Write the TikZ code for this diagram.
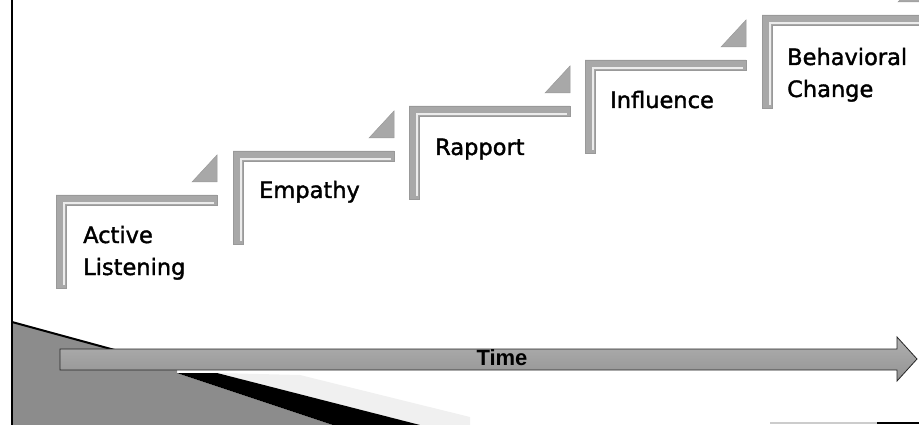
\documentclass[tikz,border=0pt]{standalone}
\usepackage{fontspec}
\setmainfont{DejaVu Sans}
\newfontfamily\labelfont{DejaVu Sans}[FakeBold=1.6]
\newfontfamily\timefont{Liberation Sans}
\usepackage{tikz}
\usetikzlibrary{positioning}

\begin{document}
\begin{tikzpicture}[x=1pt,y=-1pt,
    stepbar/.style={fill=gray!68,draw=gray!80,line width=0.6pt},
    stepline/.style={draw=white!85!gray,line width=1.2pt},
    steptri/.style={fill=gray!68,draw=gray!80,line width=0.5pt},
    steplabel/.style={anchor=base west,inner sep=0pt,align=left,
      font=\labelfont\fontsize{22.5}{32}\selectfont}]

  \useasboundingbox (0,0) rectangle (919,425);

  % ground wedge
  \fill[gray!12] (217,373) -- (300,375) -- (470,417) -- (470,425) -- (420,425) -- cycle;
  \fill[gray!90] (12,322) -- (177,367) -- (177,373) -- (333,425) -- (12,425) -- cycle;
  \fill[black] (177,373) -- (217,373) -- (420,425) -- (333,425) -- cycle;
  \draw[black,line width=2pt] (12,322) -- (177,367);
  \draw[black,line width=2pt] (12,0) -- (12,425);
  \draw[gray!40,line width=1.5pt] (770,423) -- (877,423);
  \draw[black,line width=1.5pt] (877,423) -- (919,423);

  % steps
  \foreach \L/\T in {56/195, 233/151, 409/106, 585/60, 762/15} {
    \path[stepbar] (\L,\T) -- ++(161,0) -- ++(0,10) -- ++(-151,0)
      -- ++(0,83) -- ++(-10,0) -- cycle;
    \draw[stepline] (\L+8,\T+90) -- (\L+8,\T+8) -- (\L+158,\T+8);
    \path[steptri] (\L+136,\T-13) -- (\L+161,\T-13) -- (\L+161,\T-40) -- cycle;
  }

  \node(al)[steplabel] at (83,275) {Active\\Listening};
  \node(em)[steplabel] at (259,198) {Empathy};
  \node(ra)[steplabel] at (435,155) {Rapport};
  \node(in)[steplabel] at (610,108) {Influence};
  \node(bc)[steplabel] at (787,97) {Behavioral\\Change};

  % time arrow
  \path[top color=gray!62,bottom color=gray!85,draw=gray!30!black,line width=0.8pt]
    (60,349) -- (897,349) -- (897,337) -- (917,359) -- (897,381)
    -- (897,370) -- (60,370) -- cycle;
  \node(time)[anchor=base,inner sep=0pt,font=\timefont\bfseries\fontsize{22}{22}\selectfont]
    at (502,365) {Time};

\end{tikzpicture}
\end{document}
